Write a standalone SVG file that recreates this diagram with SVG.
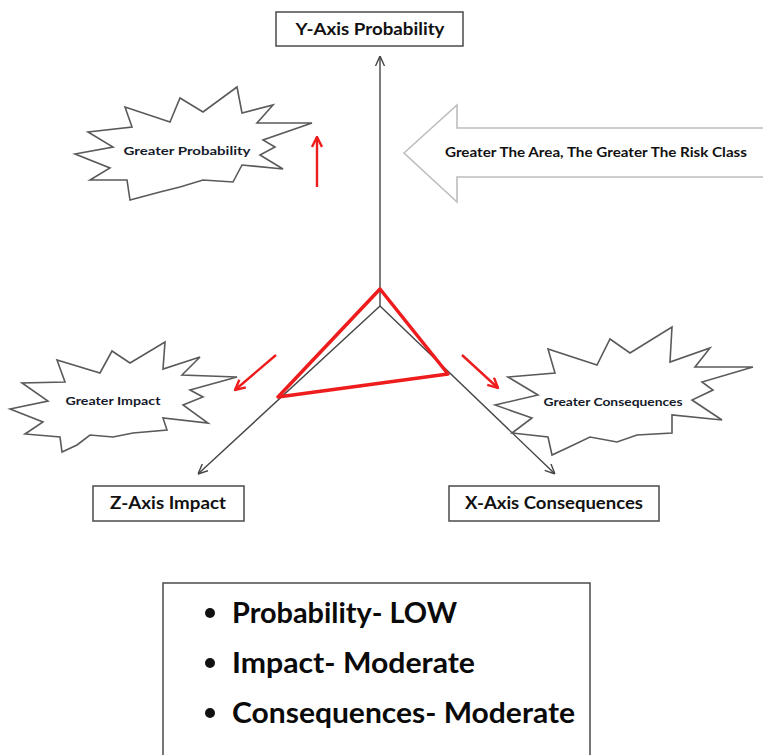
<svg xmlns="http://www.w3.org/2000/svg" width="763" height="755" viewBox="0 0 763 755">
<defs>
<style>
.box{fill:#fff;stroke:#555;stroke-width:1.6}
.lbl{font-family:Lato,"Open Sans","Liberation Sans",sans-serif;font-weight:bold;fill:#111;text-anchor:middle}
.burst{fill:#fff;stroke:#5a5a5a;stroke-width:1.6;stroke-linejoin:miter}
.small{font-family:Lato,"Open Sans","Liberation Sans",sans-serif;font-weight:bold;fill:#151a2a;text-anchor:middle;font-size:11.5px}
.axis{stroke:#444;stroke-width:1.4;fill:none}
.red{stroke:#ee1c1c;stroke-width:2.4;fill:none}
.big{font-family:Lato,"Open Sans","Liberation Sans",sans-serif;font-weight:bold;fill:#0a0a0a;font-size:29px}
</style>
<marker id="ah" viewBox="0 0 10 10" refX="10" refY="5" markerWidth="10" markerHeight="10" markerUnits="userSpaceOnUse" orient="auto">
<path d="M0,0.5 L10,5 L0,9.5" fill="none" stroke="#444" stroke-width="1.4"/>
</marker>
<marker id="rh" viewBox="0 0 12 12" refX="11" refY="6" markerWidth="12" markerHeight="12" markerUnits="userSpaceOnUse" orient="auto">
<path d="M1,1 L11,6 L1,11" fill="none" stroke="#ee1c1c" stroke-width="2.4"/>
</marker>
</defs>
<rect width="763" height="755" fill="#fff"/>

<g id="connectors">
<line class="axis" x1="380" y1="306" x2="380" y2="56" marker-end="url(#ah)"/>
<line class="axis" x1="380" y1="306" x2="198" y2="474" marker-end="url(#ah)"/>
<line class="axis" x1="380" y1="306" x2="555" y2="474" marker-end="url(#ah)"/>
<line class="red" x1="317" y1="187" x2="317" y2="137" marker-end="url(#rh)"/>
<line class="red" x1="276" y1="355" x2="235" y2="390" marker-end="url(#rh)"/>
<line class="red" x1="462" y1="355" x2="498" y2="388" marker-end="url(#rh)"/>
</g>

<g id="triangle">
<polygon points="380,289 278,397 448,374" fill="none" stroke="#ee1c1c" stroke-width="3.5" stroke-linejoin="round"/>
</g>

<g id="y-axis">
<rect class="box" x="276" y="12" width="187" height="34"/>
<text class="lbl" x="370" y="35" font-size="17" textLength="149" lengthAdjust="spacingAndGlyphs">Y-Axis Probability</text>
</g>

<g id="z-axis">
<rect class="box" x="93" y="486" width="151" height="35"/>
<text class="lbl" x="168" y="509" font-size="16.5" textLength="116" lengthAdjust="spacingAndGlyphs">Z-Axis Impact</text>
</g>

<g id="x-axis">
<rect class="box" x="449" y="486" width="210" height="35"/>
<text class="lbl" x="554" y="509" font-size="16.5" textLength="178" lengthAdjust="spacingAndGlyphs">X-Axis Consequences</text>
</g>

<g id="risk-arrow">
<polygon points="404,153 457,105 457,128 765,128 765,177 457,177 457,202" fill="#fff" stroke="#bdbdbd" stroke-width="1.6"/>
<text class="lbl" x="596" y="157" font-size="13.5" textLength="302" lengthAdjust="spacingAndGlyphs">Greater The Area, The Greater The Risk Class</text>
</g>

<g id="greater-probability">
<polygon class="burst" points="75,154 113,147 88,132 132,127 125,107 170,122 180,98 203,112 237,87 242,113 273,105 257,123 312,123 263,140 275,147 260,155 283,169 242,165 233,182 203,180 180,187 160,192 130,200 127,180 90,180 110,168"/>
<text class="small" x="187" y="155" textLength="127" lengthAdjust="spacingAndGlyphs">Greater Probability</text>
</g>

<g id="greater-impact">
<polygon class="burst" points="10,409 48,401 22,383 65,382 57,360 100,373 112,351 130,363 165,342 163,369 200,357 182,375 237,377 190,390 203,397 183,405 208,423 163,418 167,430 133,433 113,437 90,435 77,445 62,452 60,437 25,434 43,422"/>
<text class="small" x="113" y="405" textLength="95" lengthAdjust="spacingAndGlyphs">Greater Impact</text>
</g>

<g id="greater-consequences">
<polygon class="burst" points="495,405 538,395 508,377 555,373 548,349 597,365 610,339 630,353 672,327 670,362 710,348 695,367 753,367 702,382 713,390 692,400 722,420 672,415 672,433 637,435 617,442 590,437 567,448 552,455 548,437 512,433 532,418"/>
<text class="small" x="613" y="406" textLength="139" lengthAdjust="spacingAndGlyphs">Greater Consequences</text>
</g>

<g id="summary">
<rect x="163" y="583" width="427" height="180" fill="#fff" stroke="#555" stroke-width="1.6"/>
<circle cx="210" cy="613" r="5" fill="#111"/>
<circle cx="210" cy="663" r="5" fill="#111"/>
<circle cx="210" cy="713" r="5" fill="#111"/>
<text class="big" x="232" y="623" textLength="225" lengthAdjust="spacingAndGlyphs">Probability- LOW</text>
<text class="big" x="232" y="673" textLength="243" lengthAdjust="spacingAndGlyphs">Impact- Moderate</text>
<text class="big" x="232" y="723" textLength="343" lengthAdjust="spacingAndGlyphs">Consequences- Moderate</text>
</g>
</svg>
